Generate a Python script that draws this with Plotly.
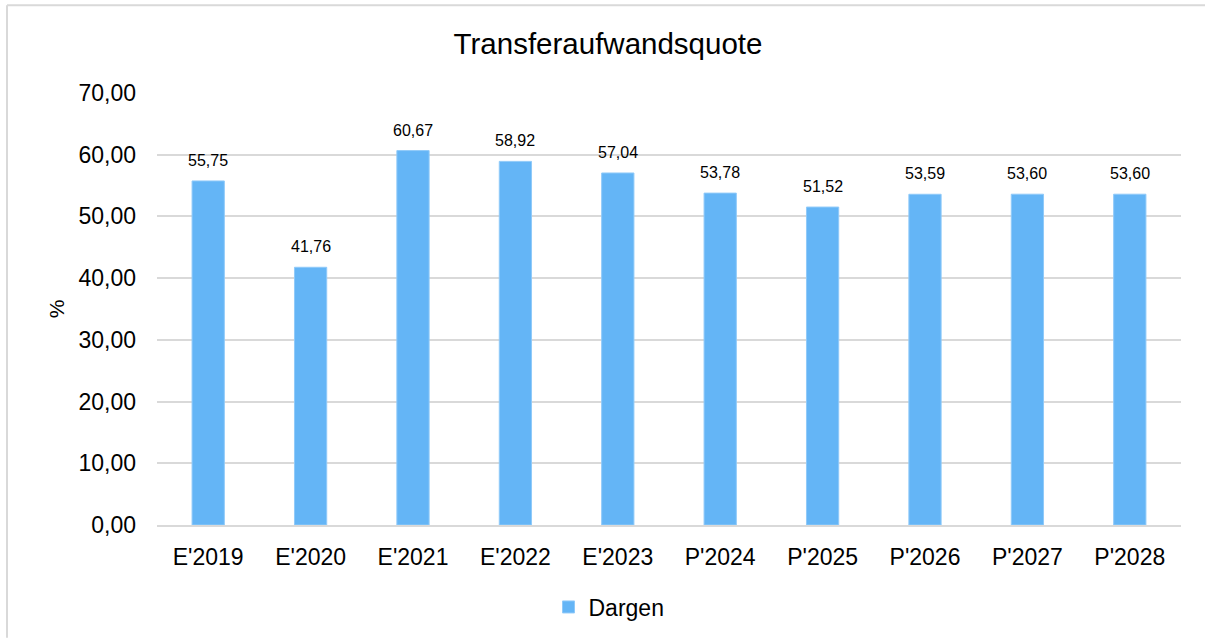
import plotly.graph_objects as go

categories = ["E'2019", "E'2020", "E'2021", "E'2022", "E'2023",
              "P'2024", "P'2025", "P'2026", "P'2027", "P'2028"]
values = [55.75, 41.76, 60.67, 58.92, 57.04, 53.78, 51.52, 53.59, 53.60, 53.60]
series_name = "Dargen"
title_text = "Transferaufwandsquote"
y_title = "%"
y_ticks = [0, 10, 20, 30, 40, 50, 60, 70]

W, H = 1205, 639
L, R, T, B = 157, 24, 93, 113
pw, ph = W - L - R, H - T - B

def px(x):
    return (x - L) / pw

def py(y):
    return (H - B - y) / ph

FONT = "Liberation Sans, Arial, sans-serif"

fig = go.Figure()
fig.add_trace(go.Bar(
    x=categories, y=values, name=series_name,
    marker=dict(color="#64B5F6", line=dict(color="#90CAF9", width=1)),
    showlegend=True,
))

# data labels placed above each bar via the axis scales
for c, v in zip(categories, values):
    fig.add_annotation(
        x=c, y=v, xref="x", yref="y", text=f"{v:.2f}".replace(".", ","),
        showarrow=False, yanchor="bottom", yshift=10,
        font=dict(family=FONT, size=16, color="#000000"),
    )

border = dict(color="#D9D9D9", width=2)
fig.update_layout(
    width=W, height=H,
    margin=dict(l=L, r=R, t=T, b=B),
    paper_bgcolor="white", plot_bgcolor="white",
    separators=",.",
    font=dict(family=FONT, color="#000000"),
    title=dict(text=title_text, x=608 / W, xanchor="center", y=1 - 44 / H, yanchor="middle",
               font=dict(size=29.5, family=FONT, color="#000000")),
    bargap=0.685,
    showlegend=True,
    legend=dict(orientation="h", x=px(609), xanchor="center", y=py(607), yanchor="middle",
                font=dict(size=23), itemwidth=30, traceorder="normal"),
    xaxis=dict(showgrid=False, showline=True, linecolor="#D9D9D9", linewidth=2,
               ticks="", tickfont=dict(size=23), ticklabelstandoff=10),
    yaxis=dict(range=[0, 70], tickvals=y_ticks, tickformat=".2f",
               showgrid=True, gridcolor="#D9D9D9", gridwidth=1.5,
               zeroline=False, showline=False, ticks="", ticklen=0,
               tickfont=dict(size=23), ticklabelstandoff=20,
               title=dict(text=y_title, font=dict(size=21), standoff=8)),
    shapes=[
        dict(type="line", xref="paper", yref="paper",
             x0=px(7), x1=px(W), y0=py(5), y1=py(5), line=border, layer="below"),
        dict(type="line", xref="paper", yref="paper",
             x0=px(7), x1=px(7), y0=py(5), y1=py(H), line=border, layer="below"),
    ],
)

fig.write_html("out.html", config={"displayModeBar": False},
               post_script="document.body.style.margin='0';")
